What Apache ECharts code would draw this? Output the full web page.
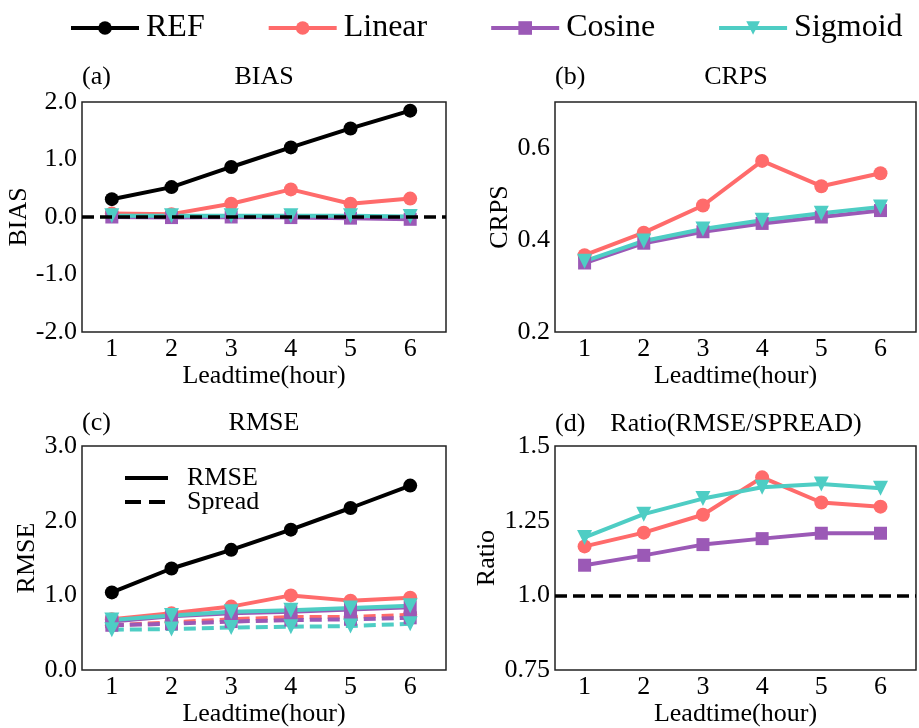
<!DOCTYPE html>
<html>
<head>
<meta charset="utf-8">
<script src="https://cdn.jsdelivr.net/npm/echarts@6/dist/echarts.min.js"></script>
<style>
  html, body { margin: 0; padding: 0; background: #fff; }
  #chart { width: 919px; height: 728px; }
</style>
</head>
<body>
<div id="chart"></div>
<script>
const leadtimes = [1, 2, 3, 4, 5, 6];
const models = ['REF', 'Linear', 'Cosine', 'Sigmoid'];

// (a) BIAS
const biasRef = [0.31, 0.52, 0.87, 1.21, 1.54, 1.85];
const biasLinear = [0.06, 0.05, 0.23, 0.48, 0.23, 0.32];
const biasCosine = [0.0, -0.01, 0.0, -0.01, -0.02, -0.04];
const biasSigmoid = [0.02, 0.02, 0.02, 0.02, 0.02, 0.01];

// (b) CRPS
const crpsLinear = [0.367, 0.416, 0.475, 0.572, 0.517, 0.545];
const crpsCosine = [0.350, 0.393, 0.418, 0.436, 0.450, 0.464];
const crpsSigmoid = [0.354, 0.398, 0.424, 0.443, 0.458, 0.472];

// (c) RMSE and spread
const rmseRef = [1.04, 1.36, 1.61, 1.88, 2.17, 2.47];
const rmseLinear = [0.68, 0.76, 0.85, 1.0, 0.93, 0.97];
const rmseCosine = [0.65, 0.72, 0.76, 0.78, 0.81, 0.84];
const rmseSigmoid = [0.67, 0.73, 0.78, 0.80, 0.83, 0.86];
const spreadLinear = [0.60, 0.64, 0.68, 0.71, 0.71, 0.74];
const spreadCosine = [0.60, 0.62, 0.65, 0.67, 0.68, 0.70];
const spreadSigmoid = [0.54, 0.55, 0.57, 0.58, 0.59, 0.62];

// (d) Ratio
const ratioLinear = [1.164, 1.21, 1.27, 1.395, 1.311, 1.297];
const ratioCosine = [1.101, 1.134, 1.17, 1.19, 1.208, 1.208];
const ratioSigmoid = [1.194, 1.272, 1.324, 1.362, 1.373, 1.359];

const colors = { REF: '#000000', Linear: '#FF6B6B', Cosine: '#9B59B6', Sigmoid: '#4ECDC4' };
const symbols = { REF: 'circle', Linear: 'circle', Cosine: 'rect', Sigmoid: 'triangle' };
const symbolSizes = { REF: 14, Linear: 14, Cosine: 13, Sigmoid: 15 };

const font = 'Liberation Serif';
const fs = 26;
const dash = [12, 6];

const grids = [
    { left: 82, top: 102, width: 364, height: 230 },
    { left: 555, top: 102, width: 362, height: 230 },
    { left: 82, top: 446, width: 364, height: 230 },
    { left: 555, top: 446, width: 362, height: 230 }
];

function line(name, gi, values, dashed) {
    return {
        name: name,
        type: 'line',
        xAxisIndex: gi,
        yAxisIndex: gi,
        data: values.map((v, i) => [leadtimes[i], v]),
        symbol: symbols[name],
        symbolSize: symbolSizes[name],
        symbolRotate: name === 'Sigmoid' ? 180 : 0,
        itemStyle: { color: colors[name] },
        lineStyle: { color: colors[name], width: 4, type: dashed ? dash : 'solid' },
        emphasis: { disabled: true },
        animation: false
    };
}

function refLine(gi, value) {
    return {
        type: 'line',
        xAxisIndex: gi,
        yAxisIndex: gi,
        data: [],
        markLine: {
            silent: true,
            symbol: 'none',
            label: { show: false },
            lineStyle: { color: '#000', width: 3.5, type: dash },
            data: [{ yAxis: value }]
        },
        animation: false
    };
}

const xAxes = grids.map((g, i) => ({
    type: 'value',
    gridIndex: i,
    min: 0.5,
    max: 6.6,
    interval: 0.5,
    name: 'Leadtime(hour)',
    nameLocation: 'middle',
    nameGap: 28,
    nameTextStyle: { fontFamily: font, fontSize: fs, color: '#000' },
    axisLine: { show: false },
    axisTick: { show: false },
    splitLine: { show: false },
    axisLabel: {
        fontFamily: font, fontSize: fs, color: '#000', margin: 4,
        formatter: v => (Number.isInteger(v) && v >= 1 && v <= 6) ? String(v) : ''
    }
}));

const yCommon = {
    type: 'value',
    nameLocation: 'middle',
    nameTextStyle: { fontFamily: font, fontSize: fs, color: '#000' },
    axisLine: { show: false },
    axisTick: { show: false },
    splitLine: { show: false }
};
const yLabel = (fmt) => ({ fontFamily: font, fontSize: fs, color: '#000', margin: 5, formatter: fmt });

const yAxes = [
    Object.assign({}, yCommon, { gridIndex: 0, min: -2, max: 2, interval: 1, name: 'BIAS', nameGap: 50,
        axisLabel: yLabel(v => v.toFixed(1)) }),
    Object.assign({}, yCommon, { gridIndex: 1, min: 0.2, max: 0.7, interval: 0.2, name: 'CRPS', nameGap: 40,
        axisLabel: yLabel(v => (Math.abs(v - 0.7) < 1e-6) ? '' : v.toFixed(1)) }),
    Object.assign({}, yCommon, { gridIndex: 2, min: 0, max: 3, interval: 1, name: 'RMSE', nameGap: 42,
        axisLabel: yLabel(v => v.toFixed(1)) }),
    Object.assign({}, yCommon, { gridIndex: 3, min: 0.75, max: 1.5, interval: 0.25, name: 'Ratio', nameGap: 55,
        axisLabel: yLabel(v => Number.isInteger(v) ? v.toFixed(1) : String(v)) })
];

const titleStyle = { fontFamily: font, fontSize: fs, fontWeight: 'normal', color: '#000' };
const titles = [
    { text: '(a)', left: 82, top: 64 },
    { text: 'BIAS', left: 264, top: 64, textAlign: 'center' },
    { text: '(b)', left: 555, top: 64 },
    { text: 'CRPS', left: 736, top: 64, textAlign: 'center' },
    { text: '(c)', left: 82, top: 410 },
    { text: 'RMSE', left: 264, top: 410, textAlign: 'center' },
    { text: '(d)', left: 555, top: 411 },
    { text: 'Ratio(RMSE/SPREAD)', left: 736, top: 411, textAlign: 'center' }
].map(t => Object.assign({ padding: 0, textStyle: titleStyle }, t));

const series = [
    line('REF', 0, biasRef), line('Linear', 0, biasLinear), line('Cosine', 0, biasCosine), line('Sigmoid', 0, biasSigmoid),
    refLine(0, 0),
    line('Linear', 1, crpsLinear), line('Cosine', 1, crpsCosine), line('Sigmoid', 1, crpsSigmoid),
    line('REF', 2, rmseRef),
    line('Linear', 2, rmseLinear), line('Linear', 2, spreadLinear, true),
    line('Cosine', 2, rmseCosine), line('Cosine', 2, spreadCosine, true),
    line('Sigmoid', 2, rmseSigmoid), line('Sigmoid', 2, spreadSigmoid, true),
    { name: 'RMSE', type: 'line', xAxisIndex: 2, yAxisIndex: 2, data: [], symbol: 'none',
      itemStyle: { color: '#000' }, lineStyle: { color: '#000', width: 4 } },
    { name: 'Spread', type: 'line', xAxisIndex: 2, yAxisIndex: 2, data: [], symbol: 'none',
      itemStyle: { color: '#000' }, lineStyle: { color: '#000', width: 4, type: [16, 8] } },
    refLine(3, 1.0),
    line('Linear', 3, ratioLinear), line('Cosine', 3, ratioCosine), line('Sigmoid', 3, ratioSigmoid)
];

const chart = echarts.init(document.getElementById('chart'), null, { renderer: 'canvas' });
chart.setOption({
    backgroundColor: '#fff',
    animation: false,
    title: titles,
    legend: [
        {
            data: models,
            left: 69,
            top: 12,
            padding: 0,
            itemWidth: 68,
            itemHeight: 17,
            itemGap: 62,
            selectedMode: false,
            lineStyle: { width: 4 },
            textStyle: { fontFamily: font, fontSize: 32, color: '#000', padding: [0, 0, 0, 2] }
        },
        {
            data: ['RMSE', 'Spread'],
            orient: 'vertical',
            left: 123,
            top: 465,
            padding: 0,
            itemWidth: 43,
            itemHeight: 10,
            itemGap: -2,
            selectedMode: false,
            itemStyle: { opacity: 0 },
            lineStyle: { width: 4 },
            textStyle: { fontFamily: font, fontSize: fs, color: '#000', padding: [0, 0, 0, 14] }
        }
    ],
    grid: grids.map(g => Object.assign({ show: true, borderColor: '#222', borderWidth: 1.5, backgroundColor: 'transparent' }, g)),
    xAxis: xAxes,
    yAxis: yAxes,
    series: series
});
</script>
</body>
</html>
